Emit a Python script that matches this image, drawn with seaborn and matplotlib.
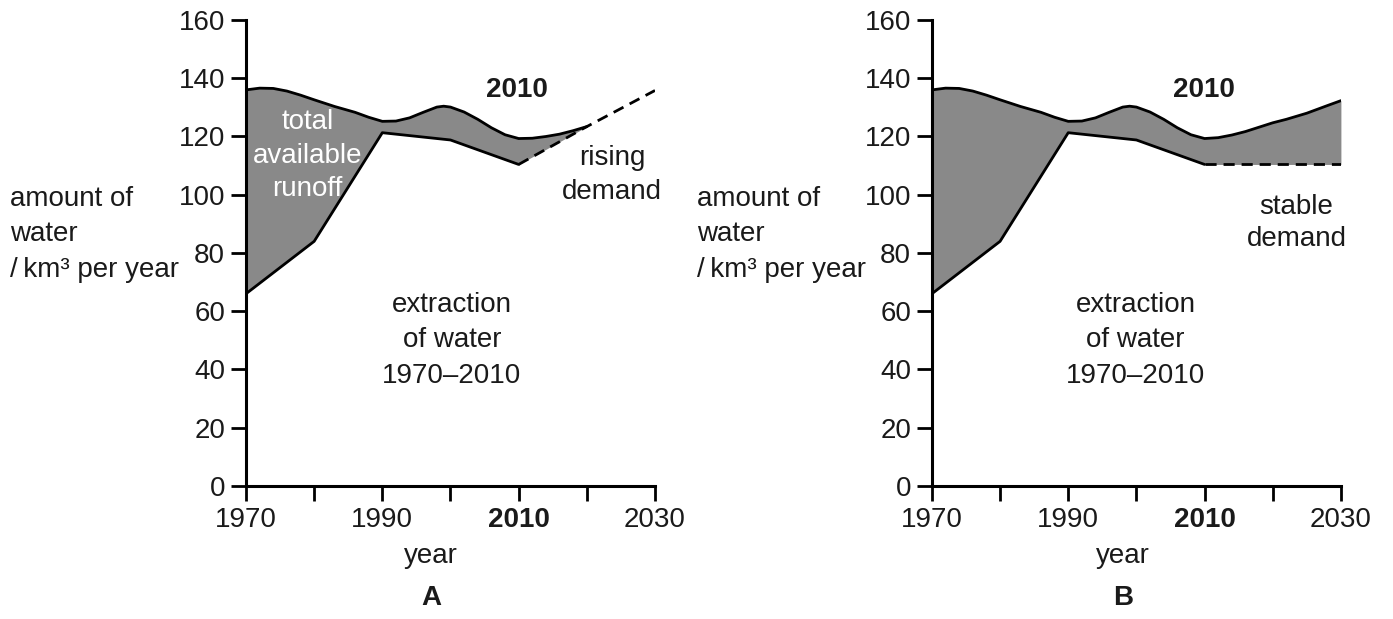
import numpy as np
import pandas as pd
import matplotlib
matplotlib.use('Agg')
import matplotlib.pyplot as plt
import seaborn as sns

# runoff (total available), chart A
runoff_years = [1970, 1972, 1974, 1976, 1978, 1980, 1983, 1986, 1988, 1990, 1992, 1994,
                1996, 1998, 1999, 2000, 2002, 2004, 2006, 2008, 2010, 2012, 2014, 2016,
                2018, 2020]
runoff_vals = [136, 136.6, 136.5, 135.6, 134.2, 132.6, 130.3, 128.3, 126.6, 125.2, 125.3, 126.4,
               128.3, 130.1, 130.4, 130.1, 128.4, 125.9, 123.0, 120.6, 119.3, 119.4, 120.0, 120.8,
               122.0, 123.4]
# chart B: same runoff to 2010, then its own path to 2030
runoff_b_years = [2012, 2014, 2016, 2018, 2020, 2022, 2025, 2028, 2030]
runoff_b_vals = [119.6, 120.5, 121.7, 123.2, 124.7, 125.9, 128.0, 130.6, 132.3]

# extraction 1970-2010
extr_years = [1970, 1980, 1990, 2000, 2010]
extr_vals = [66, 84, 121.3, 118.8, 110.4]

# future demand scenarios
rising_years = [2010, 2020, 2030]
rising_vals = [110.4, 123.4, 135.8]
stable_years = [2010, 2030]
stable_vals = [110.4, 110.4]

x_ticks = [1970, 1980, 1990, 2000, 2010, 2020, 2030]
x_labels = ['1970', '', '1990', '', '2010', '', '2030']
y_ticks = [0, 20, 40, 60, 80, 100, 120, 140, 160]

sns.set_style('ticks')
plt.rcParams['font.family'] = ['Liberation Sans', 'DejaVu Sans']
plt.rcParams['font.size'] = 20

fig = plt.figure(figsize=(13.93, 6.19), dpi=100)
ax_a = fig.add_axes([0.1766, 0.2149, 0.2936, 0.7528])
ax_b = fig.add_axes([0.669, 0.2149, 0.2936, 0.7528])

GREY = '#898989'
TXT = '#1a1a1a'
LW = 2.0
DASH = (0, (4, 2.5))


def base_axes(ax):
    ax.set_xlim(1970, 2030)
    ax.set_ylim(0, 160)
    ax.set_xticks(x_ticks)
    ax.set_xticklabels(x_labels)
    ax.set_yticks(y_ticks)
    for lab in ax.get_xticklabels():
        if lab.get_text() == '2010':
            lab.set_fontweight('bold')
    ax.tick_params(axis='both', direction='out', length=11, width=2, labelsize=20,
                   color='black', labelcolor=TXT, pad=4)
    for side in ['top', 'right']:
        ax.spines[side].set_visible(False)
    for side in ['left', 'bottom']:
        ax.spines[side].set_linewidth(2.2)
        ax.spines[side].set_color('black')
        ax.spines[side].set_capstyle('projecting')
    ax.set_xlabel('')
    ax.set_ylabel('')
    ax.patch.set_alpha(0)


# ---- chart A ----
ex_a = np.array(extr_years + rising_years[1:])
ex_a_vals = np.array(extr_vals + rising_vals[1:])
low_a = np.interp(runoff_years, ex_a, ex_a_vals)
ax_a.fill_between(runoff_years, low_a, runoff_vals, where=np.array(runoff_vals) >= low_a,
                  color=GREY, lw=0, interpolate=True)
sns.lineplot(x=runoff_years, y=runoff_vals, ax=ax_a, color='black', lw=LW)
sns.lineplot(x=extr_years, y=extr_vals, ax=ax_a, color='black', lw=LW)
ax_a.plot(rising_years, rising_vals, color='black', lw=LW, linestyle=DASH)
base_axes(ax_a)

ax_a.text(1979, 125, 'total', color='white', ha='center', va='center')
ax_a.text(1979, 113.3, 'available', color='white', ha='center', va='center')
ax_a.text(1979, 102, 'runoff', color='white', ha='center', va='center')
ax_a.text(2009.7, 136, '2010', fontweight='bold', ha='center', va='center', color=TXT)
ax_a.text(2023.7, 112.6, 'rising', ha='center', va='center', color=TXT)
ax_a.text(2023.7, 101, 'demand', ha='center', va='center', color=TXT)
for yv, t in zip([62.1, 50.1, 37.8], ['extraction', 'of water', '1970\u20132010']):
    ax_a.text(2000.2, yv, t, ha='center', va='center', color=TXT)

# ---- chart B ----
run_b_years = runoff_years[:21] + runoff_b_years
run_b_vals = runoff_vals[:21] + runoff_b_vals
ex_b = np.array(extr_years + stable_years[1:])
ex_b_vals = np.array(extr_vals + stable_vals[1:])
low_b = np.interp(run_b_years, ex_b, ex_b_vals)
ax_b.fill_between(run_b_years, low_b, run_b_vals, color=GREY, lw=0)
sns.lineplot(x=run_b_years, y=run_b_vals, ax=ax_b, color='black', lw=LW)
sns.lineplot(x=extr_years, y=extr_vals, ax=ax_b, color='black', lw=LW)
ax_b.plot(stable_years, stable_vals, color='black', lw=LW, linestyle=DASH)
base_axes(ax_b)

ax_b.text(2009.9, 136, '2010', fontweight='bold', ha='center', va='center', color=TXT)
ax_b.text(2023.5, 95.8, 'stable', ha='center', va='center', color=TXT)
ax_b.text(2023.5, 84.8, 'demand', ha='center', va='center', color=TXT)
for yv, t in zip([62.1, 50.1, 37.8], ['extraction', 'of water', '1970\u20132010']):
    ax_b.text(1999.9, yv, t, ha='center', va='center', color=TXT)

# y labels, x labels and panel letters
for xpos in [10 / 1393, 697 / 1393]:
    fig.text(xpos, 1 - 199 / 619, 'amount of', ha='left', va='center', color=TXT)
    fig.text(xpos, 1 - 234 / 619, 'water', ha='left', va='center', color=TXT)
    fig.text(xpos, 1 - 270 / 619, '/\u2009km\u00b3 per year', ha='left', va='center', color=TXT)

for xc, letter in [(431 / 1393, 'A'), (1123 / 1393, 'B')]:
    fig.text(xc, 1 - 556 / 619, 'year', ha='center', va='center', color=TXT)
    fig.text(xc, 1 - 598 / 619, letter, ha='center', va='center', fontweight='bold', color=TXT)

fig.savefig('out.png', dpi=100)
